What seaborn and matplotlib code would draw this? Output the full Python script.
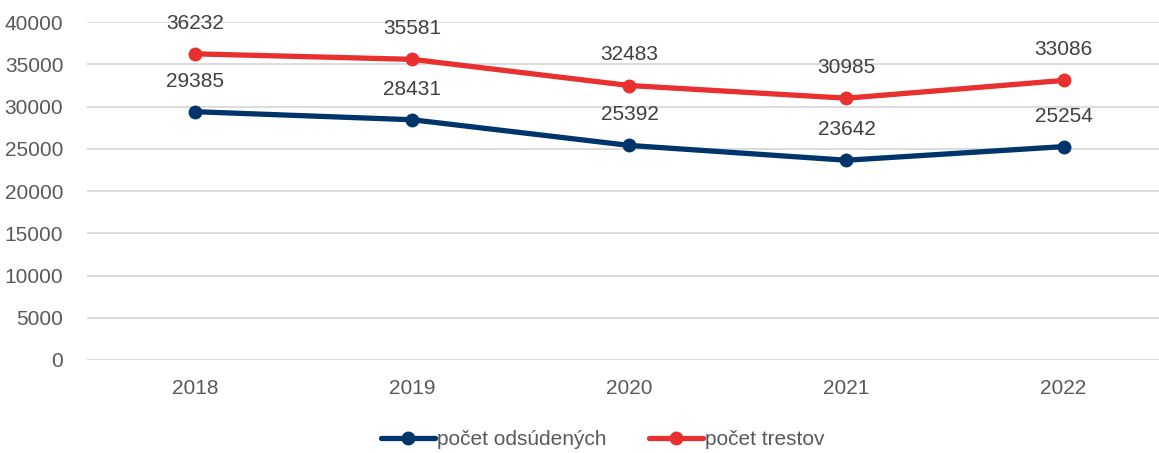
import matplotlib.pyplot as plt
import pandas as pd
import seaborn as sns

YEARS = ["2018", "2019", "2020", "2021", "2022"]
ODSUDENI = [29385, 28431, 25392, 23642, 25254]
TRESTY = [36232, 35581, 32483, 30985, 33086]
SERIES = ["počet odsúdených", "počet trestov"]
COLORS = ["#00356B", "#E8302F"]


def main() -> None:
    sns.set_theme(style="white")
    plt.rcParams["font.family"] = ["Liberation Sans", "DejaVu Sans"]

    df = pd.DataFrame(
        {
            "rok": list(range(len(YEARS))) * 2,
            "hodnota": ODSUDENI + TRESTY,
            "serie": [SERIES[0]] * len(YEARS) + [SERIES[1]] * len(YEARS),
        }
    )

    fig = plt.figure(figsize=(11.59, 4.53), dpi=100)
    ax = fig.add_axes([0.075, 0.2053, 0.925, 0.7461])

    sns.lineplot(
        data=df,
        x="rok",
        y="hodnota",
        hue="serie",
        palette=COLORS,
        marker="o",
        markersize=10,
        markeredgewidth=0,
        linewidth=3.8,
        ax=ax,
    )

    for values in (ODSUDENI, TRESTY):
        for i, v in enumerate(values):
            ax.annotate(
                str(v),
                (i, v),
                xytext=(0, 22),
                textcoords="offset points",
                ha="center",
                va="center",
                fontsize=15,
                color="#404040",
            )

    ax.set_xlim(-0.5, 4.44)
    ax.set_ylim(0, 40000)
    ax.set_yticks(range(0, 40001, 5000))
    ax.set_xticks(range(len(YEARS)))
    ax.set_xticklabels(YEARS)
    ax.yaxis.grid(True, color="#D9D9D9", linewidth=1.3)
    ax.xaxis.grid(False)
    for side in ["top", "right", "left", "bottom"]:
        ax.spines[side].set_visible(False)
    ax.tick_params(axis="both", labelsize=15, colors="#595959", length=0)
    ax.tick_params(axis="x", pad=14)
    ax.tick_params(axis="y", pad=17)
    ax.set_xlabel("")
    ax.set_ylabel("")

    handles, labels = ax.get_legend_handles_labels()
    ax.get_legend().remove()
    fig.legend(
        handles,
        labels,
        loc="center",
        bbox_to_anchor=(0.52, 0.03),
        ncol=2,
        frameon=False,
        fontsize=15,
        labelcolor="#595959",
        handlelength=2.6,
        handletextpad=0.1,
        columnspacing=2.0,
    )

    fig.savefig("out.png", dpi=100)
    plt.close(fig)


if __name__ == "__main__":
    main()
